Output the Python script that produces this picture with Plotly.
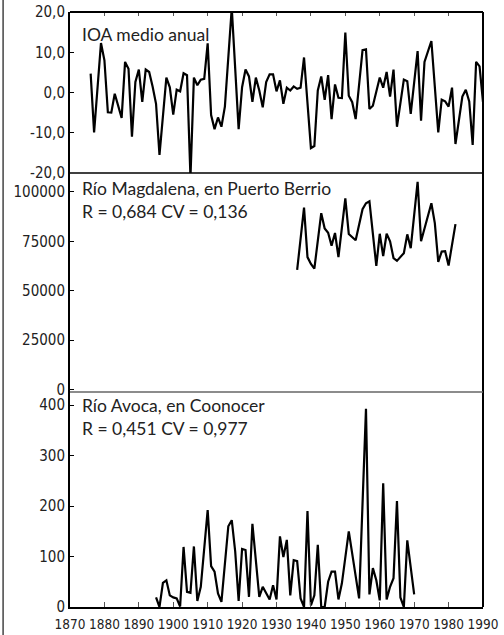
import plotly.graph_objects as go

# ---------------- data ----------------
ioa_years = [1876, 1877, 1879, 1880, 1881, 1882, 1883, 1885, 1886, 1887,
             1888, 1889, 1890, 1891, 1892, 1893, 1894, 1895, 1896, 1898,
             1899, 1900, 1901, 1902, 1903, 1904, 1905, 1906, 1907, 1908,
             1909, 1910, 1911, 1912, 1913, 1914, 1915, 1917, 1919, 1920,
             1921, 1922, 1923, 1924, 1925, 1926, 1927, 1928, 1929, 1930,
             1931, 1932, 1933, 1934, 1935, 1936, 1937, 1938, 1940, 1941,
             1942, 1943, 1944, 1945, 1946, 1947, 1948, 1949, 1950, 1951,
             1952, 1953, 1955, 1956, 1957, 1958, 1960, 1961, 1962, 1963,
             1964, 1965, 1967, 1968, 1969, 1971, 1972, 1973, 1975, 1977,
             1978, 1979, 1980, 1981, 1982, 1984, 1985, 1986, 1987, 1988,
             1989, 1990]
ioa_values = [4.7, -9.9, 12.3, 8.0, -4.9, -5.0, -0.3, -6.3, 7.6, 5.9,
              -11.0, 2.6, 5.7, -2.3, 5.7, 5.1, 1.5, -2.8, -15.5, 3.7,
              1.3, -5.5, 0.7, 0.3, 4.8, 4.3, -21.0, 3.7, 1.8, 3.2,
              3.4, 12.2, -5.6, -9.1, -6.2, -8.5, -3.5, 21.0, -9.1, 1.3,
              5.7, 4.0, -2.3, 3.7, 0.5, -3.7, 2.6, 4.5, 4.5, 0.3,
              3.0, -2.8, 1.2, 0.5, 1.5, 0.9, 1.2, 8.7, -13.8, -13.3,
              0.5, 4.0, -1.8, 4.3, -6.6, 2.0, -1.3, -1.4, 14.9, -0.8,
              -2.4, -6.6, 10.5, 10.7, -4.1, -3.3, 3.7, 1.2, 5.1, -1.0,
              5.7, -8.5, 3.2, 2.8, -5.3, 10.3, -7.0, 7.6, 12.8, -9.9,
              -1.8, -2.2, -3.5, 1.2, -12.8, -1.0, 0.7, -2.2, -13.0, 7.6,
              6.5, -2.4]

mag_years = [1936, 1938, 1939, 1940, 1941, 1943, 1944, 1945, 1946, 1947,
             1948, 1950, 1951, 1953, 1955, 1956, 1957, 1959, 1960, 1961,
             1962, 1963, 1964, 1965, 1967, 1968, 1969, 1971, 1972, 1975,
             1976, 1977, 1978, 1979, 1980, 1982]
mag_values = [60500, 92000, 67000, 63500, 61200, 89200, 81500, 79300, 72800, 79200,
              67000, 96700, 78700, 75500, 91200, 94200, 95200, 62500, 78800, 67500,
              78800, 75000, 66500, 65100, 69000, 78500, 71500, 105000, 75000, 94200,
              84200, 64600, 69800, 70000, 62700, 83700]

avo_years = [1895, 1896, 1897, 1898, 1899, 1900, 1901, 1902, 1903, 1904,
             1905, 1906, 1907, 1908, 1910, 1911, 1912, 1913, 1914, 1916,
             1917, 1918, 1919, 1920, 1921, 1922, 1923, 1924, 1925, 1926,
             1927, 1928, 1929, 1930, 1931, 1932, 1933, 1934, 1935, 1936,
             1937, 1938, 1939, 1940, 1941, 1942, 1943, 1944, 1945, 1946,
             1947, 1948, 1949, 1951, 1954, 1956, 1957, 1958, 1959, 1960,
             1961, 1962, 1963, 1964, 1965, 1966, 1967, 1968, 1970]
avo_values = [19, 0, 48, 53, 23, 19, 17, 1, 119, 30,
              28, 120, 12, 40, 192, 81, 70, 27, 10, 160,
              172, 110, 12, 115, 113, 20, 165, 90, 20, 40,
              27, 15, 43, 15, 140, 99, 133, 23, 93, 91,
              17, 0, 190, 3, 23, 123, 0, 0, 50, 70,
              70, 15, 47, 150, 17, 393, 25, 77, 53, 13,
              245, 15, 40, 57, 210, 19, 0, 132, 25]

x_ticks = [1870, 1880, 1890, 1900, 1910, 1920, 1930, 1940, 1950, 1960, 1970, 1980, 1990]
x_ticktext = [str(v) for v in x_ticks]
ioa_ticks = [20, 10, 0, -10, -20]
ioa_ticktext = ["20,0", "10,0", "0,0", "-10,0", "-20,0"]
mag_ticks = [100000, 75000, 50000, 25000, 0]
mag_ticktext = ["100000", "75000", "50000", "25000", "0"]
avo_ticks = [400, 300, 200, 100, 0]
avo_ticktext = ["400", "300", "200", "100", "0"]

title_ioa = "IOA medio anual"
title_mag = "Río Magdalena, en Puerto Berrio<br>R = 0,684 CV = 0,136"
title_avo = "Río Avoca, en Coonocer<br>R = 0,451 CV = 0,977"

# ---------------- figure ----------------
LINE = dict(color="black", width=2.2)
FONT = "Liberation Sans Narrow, DejaVu Sans Condensed, Lato, sans-serif"
TXT = "Lato, Open Sans, sans-serif"

fig = go.Figure()
fig.add_trace(go.Scatter(x=ioa_years, y=ioa_values, mode="lines", line=LINE,
                         xaxis="x3", yaxis="y3", showlegend=False))
fig.add_trace(go.Scatter(x=mag_years, y=mag_values, mode="lines", line=LINE,
                         xaxis="x2", yaxis="y2", showlegend=False))
fig.add_trace(go.Scatter(x=avo_years, y=avo_values, mode="lines", line=LINE,
                         xaxis="x", yaxis="y", showlegend=False))

d_bot = (0.0, 0.3613)
d_mid = (0.3613, 0.7294)
d_top = (0.7294, 1.0)

ytick_font = dict(family=FONT, size=15, color="#222")
common_y = dict(showgrid=False, zeroline=False, showline=True, linecolor="black",
                linewidth=2, ticks="inside", ticklen=4, tickwidth=1, tickcolor="black",
                tickfont=ytick_font, fixedrange=True, automargin=False,
                ticklabeloverflow="allow")

fig.update_layout(
    width=504, height=635,
    margin=dict(l=70, r=21, t=12, b=28),
    paper_bgcolor="white", plot_bgcolor="white",
    xaxis=dict(domain=[0, 1], anchor="y", range=[1870, 1990], tickvals=x_ticks,
               ticktext=x_ticktext, tickangle=0, automargin=False,
               ticklabelstandoff=4, ticklabeloverflow="allow",
               showgrid=False, zeroline=False, showline=True, linecolor="black",
               linewidth=2, ticks="inside", ticklen=5, tickcolor="#555",
               tickfont=dict(family=FONT, size=13.5, color="#222")),
    xaxis2=dict(domain=[0, 1], anchor="y2", range=[1870, 1990], showgrid=False,
                zeroline=False, showline=False, showticklabels=False, ticks="",
                automargin=False),
    xaxis3=dict(domain=[0, 1], anchor="y3", range=[1870, 1990], side="top",
                tickvals=x_ticks, showgrid=False, zeroline=False, showline=False,
                showticklabels=False, ticks="inside", ticklen=4, tickcolor="#555",
                automargin=False),
    yaxis=dict(domain=list(d_bot), anchor="x", range=[0, 426], tickvals=avo_ticks,
               ticktext=avo_ticktext, **common_y),
    yaxis2=dict(domain=list(d_mid), anchor="x2", range=[-1200, 109500], tickvals=mag_ticks,
                ticktext=mag_ticktext, **common_y),
    yaxis3=dict(domain=list(d_top), anchor="x3", range=[-20, 20], tickvals=ioa_ticks,
                ticktext=ioa_ticktext, **common_y),
)

# panel frame lines
fig.add_shape(type="line", xref="paper", yref="paper", x0=0, x1=1, y0=1, y1=1,
              line=dict(color="black", width=2))
fig.add_shape(type="line", xref="paper", yref="paper", x0=1, x1=1, y0=0, y1=1,
              line=dict(color="black", width=2))
fig.add_shape(type="line", xref="paper", yref="paper", x0=0, x1=1, y0=d_top[0], y1=d_top[0],
              line=dict(color="black", width=1.5))
fig.add_shape(type="line", xref="paper", yref="paper", x0=0, x1=1, y0=d_mid[0], y1=d_mid[0],
              line=dict(color="#666", width=1.5))
# page margin rule at left
fig.add_shape(type="line", xref="paper", yref="paper", x0=-0.162, x1=-0.162, y0=-0.05, y1=1.02,
              line=dict(color="#444", width=1.5))

ann_font = dict(family=TXT, size=17.5, color="#222")
fig.add_annotation(text=title_ioa, xref="paper", yref="paper", x=0.025, y=0.983,
                   xanchor="left", yanchor="top", showarrow=False, align="left", font=ann_font)
fig.add_annotation(text=title_mag, xref="paper", yref="paper", x=0.025, y=0.724,
                   xanchor="left", yanchor="top", showarrow=False, align="left", font=ann_font)
fig.add_annotation(text=title_avo, xref="paper", yref="paper", x=0.025, y=0.359,
                   xanchor="left", yanchor="top", showarrow=False, align="left", font=ann_font)

fig.write_html("out.html", config={"displayModeBar": False},
               post_script="document.body.style.margin='0px';")
